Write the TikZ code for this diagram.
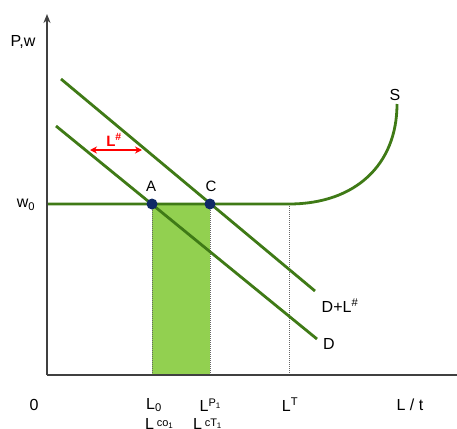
\documentclass[tikz,border=0pt]{standalone}
\usepackage{fontspec}
\setmainfont{Liberation Sans}
\usetikzlibrary{arrows.meta}
\definecolor{curvegreen}{HTML}{3F7A16}
\definecolor{fillgreen}{HTML}{92D050}
\definecolor{dotblue}{HTML}{0F2A66}
\definecolor{axisgray}{HTML}{404040}
\begin{document}
\begin{tikzpicture}[x=1pt,y=-1pt,
  curve/.style={curvegreen,line width=2.8pt},
  axisline/.style={axisgray,line width=2.2pt},
  guide/.style={black!60,line width=1pt,densely dotted},
  lbl/.style={inner sep=0pt,font=\fontsize{16}{18}\selectfont},
  ptlbl/.style={inner sep=0pt,font=\fontsize{15}{17}\selectfont},
  ptdot/.style={circle,fill=dotblue,inner sep=0pt,minimum size=11pt}]
\useasboundingbox (0,0) rectangle (457,428);
% coordinates
\coordinate (O) at (47,375);
\coordinate (Ytop) at (47,14);
\coordinate (Xend) at (457,375);
\coordinate (W) at (47,204);
\coordinate (A) at (152,204);
\coordinate (C) at (210,204);
\coordinate (T) at (289,204);
\coordinate (Stop) at (397,104);
\coordinate (Ab) at (152,375);
\coordinate (Cb) at (210,375);
\coordinate (Tb) at (289,375);
\coordinate (D1) at (56,126);
\coordinate (D2) at (317,339);
\coordinate (E1) at (61,79);
\coordinate (E2) at (315,291);
\coordinate (Ar1) at (90,150);
\coordinate (Ar2) at (142,150);
% shaded area
\fill[fillgreen] (A) rectangle (Cb);
% guides
\draw[guide] (A) -- (Ab);
\draw[guide] (C) -- (Cb);
\draw[guide] (T) -- (Tb);
% supply
\draw[curve] (W) -- (T) .. controls (355,204) and (397,165) .. (Stop);
% demand lines
\draw[curve] (D1) -- (D2);
\draw[curve] (E1) -- (E2);
% axes
\draw[axisline,-{Stealth[length=9pt,width=7pt]}] (O) -- (Ytop);
\draw[axisline] (O) -- (Xend);
% shift arrow
\draw[red,line width=1.8pt,{Stealth[length=7pt,width=7pt]}-{Stealth[length=7pt,width=7pt]}] (Ar1) -- (Ar2);
\node[lbl,red,font=\fontsize{15}{17}\selectfont\bfseries] (lsharp) at (114,140) {L\textsuperscript{\#}};
% points
\node[ptdot] (pA) at (A) {};
\node[ptdot] (pC) at (C) {};
\node[ptlbl] (lA) at (151,186) {A};
\node[ptlbl] (lC) at (211,186) {C};
% labels
\node[lbl] (lPw) at (23,42) {P,w};
\node[lbl] (lw0) at (26,205) {w\textsubscript{0}};
\node[lbl] (lS) at (395,95) {S};
\node[lbl] (lDL) at (340,306) {D+L\textsuperscript{\#}};
\node[lbl] (lD) at (329,344) {D};
\node[lbl] (l0) at (34,405) {0};
\node[lbl] (lL0) at (154,405) {L\textsubscript{0}};
\node[lbl] (lLP) at (210,405) {L\raisebox{5pt}{\fontsize{11}{12}\selectfont P\raisebox{-2pt}{\fontsize{8}{9}\selectfont 1}}};
\node[lbl] (lLT) at (290,405) {L\textsuperscript{T}};
\node[lbl] (lLt) at (410,405) {L / t};
\node[lbl,anchor=north west] (lco) at (145,418) {L\,\raisebox{3pt}{\fontsize{11}{12}\selectfont co\raisebox{-2pt}{\fontsize{8}{9}\selectfont 1}}};
\node[lbl,anchor=north west] (lcT) at (193,418) {L\,\raisebox{3pt}{\fontsize{11}{12}\selectfont cT\raisebox{-2pt}{\fontsize{8}{9}\selectfont 1}}};
\end{tikzpicture}
\end{document}
